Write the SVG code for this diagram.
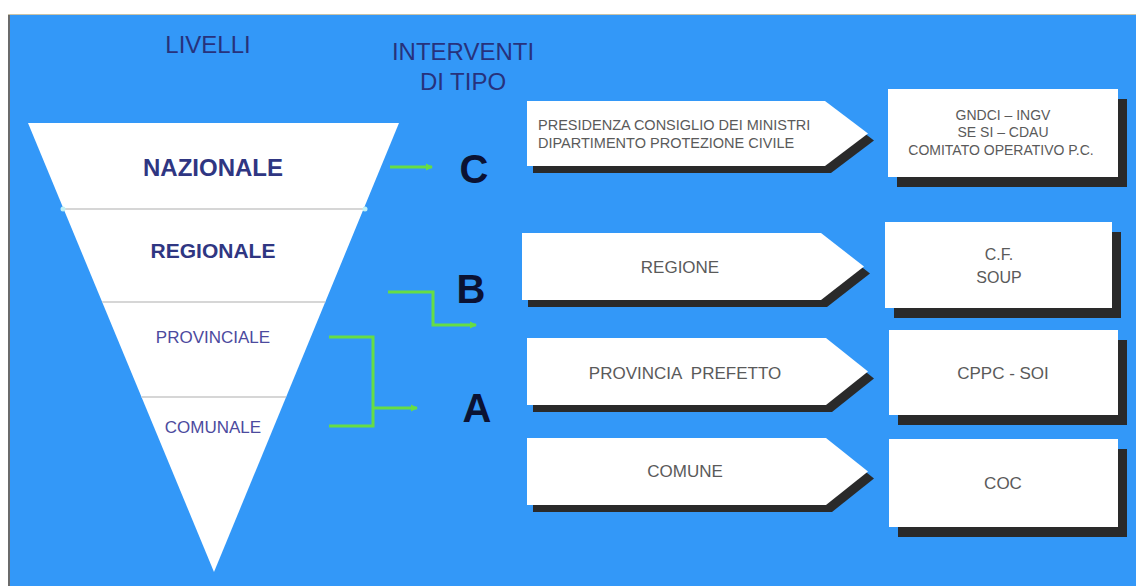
<svg xmlns="http://www.w3.org/2000/svg" width="1136" height="586" viewBox="0 0 1136 586">
<style>
.hdr{font-family:"Liberation Sans",Arial,sans-serif;font-size:24px;fill:#27327c;text-anchor:middle}
.lvlb{font-family:"Liberation Sans",Arial,sans-serif;font-weight:bold;fill:#2f3682;text-anchor:middle}
.lvl{font-family:"Liberation Sans",Arial,sans-serif;font-size:17px;fill:#4c4a9e;text-anchor:middle}
.let{font-family:"Liberation Sans",Arial,sans-serif;font-weight:bold;font-size:40px;fill:#0b1233;text-anchor:middle}
.t{font-family:"Liberation Sans",Arial,sans-serif;fill:#5a5a5a}
.tm{text-anchor:middle}
.shape{fill:#ffffff}
.shadow{fill:#2a2a2a}
.div{stroke:#c9c9c9;stroke-width:1.5}
.conn{fill:none;stroke:#66dd44;stroke-width:3}
</style>
<defs>
<marker id="ah" markerWidth="8" markerHeight="8" refX="6" refY="4" orient="auto" markerUnits="userSpaceOnUse">
<path d="M0,0.5 L7,4 L0,7.5 Z" fill="#66dd44"/>
</marker>
</defs>
<rect x="0" y="0" width="1136" height="586" fill="#ffffff"/>
<rect x="8" y="14" width="1128" height="572" fill="#3398f8"/>
<line x1="9" y1="14" x2="9" y2="586" stroke="#6b6b6b" stroke-width="2"/>
<line x1="8" y1="14.5" x2="1136" y2="14.5" stroke="#c9c3a8" stroke-width="1"/>

<g id="headers">
<text class="hdr" x="208" y="53">LIVELLI</text>
<text class="hdr" x="463" y="60" font-size="25">INTERVENTI</text>
<text class="hdr" x="463" y="90" font-size="25">DI TIPO</text>
</g>

<g id="pyramid">
<polygon points="28,123 399,123 214,572" fill="#ffffff"/>
<line class="div" x1="63.6" y1="209" x2="363.6" y2="209"/>
<line class="div" x1="102.2" y1="302" x2="325.3" y2="302"/>
<line class="div" x1="141.5" y1="397" x2="286.1" y2="397"/>
<circle cx="63" cy="209" r="2.5" fill="#bff0f5"/>
<circle cx="365" cy="209" r="2.5" fill="#bff0f5"/>
</g>
<g id="lvl-nazionale"><text class="lvlb" x="213" y="176" font-size="24">NAZIONALE</text></g>
<g id="lvl-regionale"><text class="lvlb" x="213" y="258" font-size="21">REGIONALE</text></g>
<g id="lvl-provinciale"><text class="lvl" x="213" y="343">PROVINCIALE</text></g>
<g id="lvl-comunale"><text class="lvl" x="213" y="433">COMUNALE</text></g>

<g id="type-C"><text class="let" x="474" y="183">C</text></g>
<g id="type-B"><text class="let" x="471" y="303">B</text></g>
<g id="type-A"><text class="let" x="477" y="422">A</text></g>

<g id="connectors">
<path class="conn" d="M390,167 L432,167" marker-end="url(#ah)"/>
<path class="conn" d="M388,292 L433,292 L433,325 L476,325" marker-end="url(#ah)"/>
<path class="conn" d="M329,337 L373,337 L373,426 L329,426"/>
<path class="conn" d="M373,408 L417,408" marker-end="url(#ah)"/>
</g>

<g id="ente-presidenza">
<polygon class="shadow" points="533,108 831,108 874,140.5 831,173 533,173"/>
<polygon class="shape" points="527,101 825,101 868,133.5 825,166 527,166"/>
<text class="t" x="538" y="130" font-size="14.5">PRESIDENZA CONSIGLIO DEI MINISTRI</text>
<text class="t" x="538" y="148" font-size="14.5">DIPARTIMENTO PROTEZIONE CIVILE</text>
</g>
<g id="struttura-nazionale">
<rect class="shadow" x="897" y="99" width="230" height="88"/>
<rect class="shape" x="888" y="89" width="230" height="88"/>
<text class="t tm" x="1003" y="120" font-size="14">GNDCI – INGV</text>
<text class="t tm" x="1003" y="137" font-size="14">SE SI – CDAU</text>
<text class="t tm" x="1001" y="155" font-size="14">COMITATO OPERATIVO P.C.</text>
</g>

<g id="ente-regione">
<polygon class="shadow" points="528,240 827,240 870,273.5 827,307 528,307"/>
<polygon class="shape" points="522,233 821,233 864,266.5 821,300 522,300"/>
<text class="t tm" x="680" y="273" font-size="17">REGIONE</text>
</g>
<g id="struttura-regionale">
<rect class="shadow" x="894" y="232" width="227" height="86"/>
<rect class="shape" x="885" y="222" width="227" height="86"/>
<text class="t tm" x="999" y="260" font-size="16">C.F.</text>
<text class="t tm" x="999" y="283" font-size="16">SOUP</text>
</g>

<g id="ente-provincia">
<polygon class="shadow" points="533,345 832,345 874,378.5 832,412 533,412"/>
<polygon class="shape" points="527,338 826,338 868,371.5 826,405 527,405"/>
<text class="t tm" x="685" y="379" font-size="17" xml:space="preserve">PROVINCIA  PREFETTO</text>
</g>
<g id="struttura-provinciale">
<rect class="shadow" x="898" y="340" width="229" height="85"/>
<rect class="shape" x="889" y="330" width="229" height="85"/>
<text class="t tm" x="1003" y="379" font-size="17">CPPC - SOI</text>
</g>

<g id="ente-comune">
<polygon class="shadow" points="533,445 832,445 874,478.5 832,512 533,512"/>
<polygon class="shape" points="527,438 826,438 868,471.5 826,505 527,505"/>
<text class="t tm" x="685" y="477" font-size="17">COMUNE</text>
</g>
<g id="struttura-comunale">
<rect class="shadow" x="898" y="449" width="229" height="88"/>
<rect class="shape" x="889" y="439" width="229" height="88"/>
<text class="t tm" x="1003" y="489" font-size="17">COC</text>
</g>
</svg>
